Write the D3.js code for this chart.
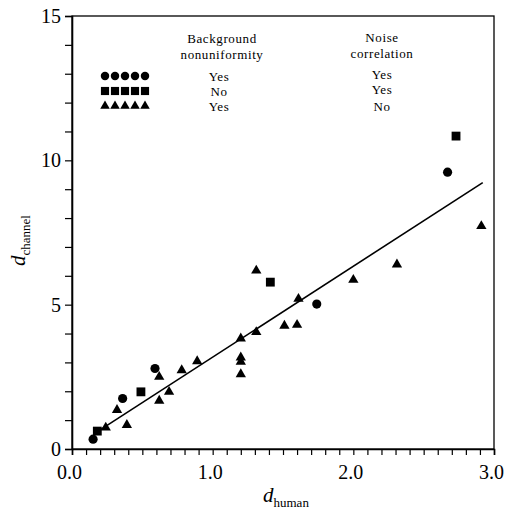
<!DOCTYPE html>
<html>
<head>
<meta charset="utf-8">
<script src="https://cdn.jsdelivr.net/npm/d3@7"></script>
<style>
  body { margin: 0; background: #fff; }
  svg { display: block; }
  text { font-family: "Liberation Serif", "DejaVu Serif", serif; fill: #000; }
</style>
</head>
<body>
<svg id="chart" width="508" height="513"></svg>
<script>
// observers: background nonuniformity yes / noise correlation yes
const circleX = [0.15, 0.36, 0.59, 1.74, 2.67]
const circleY = [0.34, 1.75, 2.79, 5.02, 9.59]

// background nonuniformity no / noise correlation yes
const squareX = [0.18, 0.49, 1.41, 2.73]
const squareY = [0.62, 1.98, 5.78, 10.84]

// background nonuniformity yes / noise correlation no
const triangleX = [0.24, 0.32, 0.39, 0.62, 0.62, 0.69, 0.78, 0.89, 1.2, 1.2,
  1.2, 1.2, 1.31, 1.31, 1.51, 1.6, 1.61, 2.0, 2.31, 2.91]
const triangleY = [0.74, 1.35, 0.83, 2.5, 1.67, 1.98, 2.73, 3.04, 3.83, 3.17,
  3.02, 2.59, 6.18, 4.05, 4.27, 4.3, 5.2, 5.86, 6.39, 7.72]

// fitted line end points
const fitX = [0.2, 2.92]
const fitY = [0.66, 9.23]

const xTickLabels = ["0.0", "1.0", "2.0", "3.0"]
const yTickLabels = ["0", "5", "10", "15"]

const legendBackground = ["Yes", "No", "Yes"]
const legendNoise = ["Yes", "Yes", "No"]

const svg = d3.select("#chart")
const margins = {left: 72, right: 14, top: 16, bottom: 64}
const width = 508, height = 513

const x = d3.scaleLinear().domain([0, 3]).range([margins.left, width - margins.right])
const y = d3.scaleLinear().domain([0, 15]).range([height - margins.bottom, margins.top])

const zip = (xs, ys) => xs.map((v, i) => ({x: v, y: ys[i]}))
const series = [
  {key: "circle", type: d3.symbolCircle, size: 66, pts: zip(circleX, circleY)},
  {key: "square", type: d3.symbolSquare, size: 78, pts: zip(squareX, squareY)},
  {key: "triangle", type: d3.symbolTriangle, size: 46, pts: zip(triangleX, triangleY)}
]

// frame
svg.append("rect")
  .attr("x", x(0)).attr("y", y(15))
  .attr("width", x(3) - x(0)).attr("height", y(0) - y(15))
  .attr("fill", "none").attr("stroke", "#000").attr("stroke-width", 1.3)

// x axis
const xAxis = d3.axisBottom(x)
  .tickValues(d3.range(0, 31).map(i => i / 10))
  .tickSize(6)
  .tickFormat(d => {
    const i = Math.round(d * 10)
    return i % 10 === 0 ? xTickLabels[i / 10] : ""
  })
const gx = svg.append("g")
  .attr("transform", `translate(0, ${y(0)})`)
  .call(xAxis)
gx.select(".domain").attr("stroke-width", 1.6)
gx.selectAll(".tick line").attr("stroke-width", 1.2)
gx.selectAll(".tick text")
  .attr("font-size", 20)
  .attr("dy", "1.05em")
  .attr("dx", -3)

// y axis
const yAxis = d3.axisLeft(y)
  .tickValues(d3.range(0, 16))
  .tickSize(7)
  .tickFormat(d => d % 5 === 0 ? yTickLabels[d / 5] : "")
const gy = svg.append("g")
  .attr("transform", `translate(${x(0)}, 0)`)
  .call(yAxis)
gy.select(".domain").attr("stroke-width", 1.6)
gy.selectAll(".tick line").attr("stroke-width", 1.2)
gy.selectAll(".tick text")
  .attr("font-size", 20)
  .attr("x", -11)
svg.selectAll(".domain, .tick line").attr("stroke", "#000")
svg.selectAll(".tick text").attr("font-family", "Liberation Serif, DejaVu Serif, serif").attr("fill", "#000")

// fitted line
svg.append("path")
  .datum(zip(fitX, fitY))
  .attr("d", d3.line().x(d => x(d.x)).y(d => y(d.y)))
  .attr("fill", "none")
  .attr("stroke", "#000")
  .attr("stroke-width", 1.6)

// points
series.forEach(s => {
  svg.append("g")
    .attr("class", s.key)
    .selectAll("path")
    .data(s.pts)
    .enter()
    .append("path")
    .attr("d", d3.symbol().type(s.type).size(s.size))
    .attr("transform", d => `translate(${x(d.x)}, ${y(d.y)})`)
    .attr("fill", "#000")
})

// legend
const legend = svg.append("g").attr("font-size", 13).attr("letter-spacing", 0.6)
const headX1 = 222, headX2 = 382
legend.append("text").attr("x", headX1).attr("y", 43).attr("text-anchor", "middle").text("Background")
legend.append("text").attr("x", headX1).attr("y", 59).attr("text-anchor", "middle").text("nonuniformity")
legend.append("text").attr("x", headX2).attr("y", 42).attr("text-anchor", "middle").text("Noise")
legend.append("text").attr("x", headX2).attr("y", 58).attr("text-anchor", "middle").text("correlation")

series.forEach((s, r) => {
  const rowY = 76 + r * 15
  legend.append("g")
    .selectAll("path")
    .data(d3.range(5))
    .enter()
    .append("path")
    .attr("d", d3.symbol().type(s.type).size(s.size * 0.85))
    .attr("transform", i => `translate(${105 + i * 10}, ${rowY})`)
    .attr("fill", "#000")
  legend.append("text").attr("x", headX1 - 3).attr("y", rowY + 5)
    .attr("text-anchor", "middle").text(legendBackground[r])
  legend.append("text").attr("x", headX2).attr("y", rowY + 3 + (r === 2 ? 2 : 0))
    .attr("text-anchor", "middle").text(legendNoise[r])
})

// axis titles
const xt = svg.append("text")
  .attr("x", 263).attr("y", 502)
  .attr("font-size", 21)
xt.append("tspan").attr("font-style", "italic").text("d")
xt.append("tspan").attr("font-size", 13).attr("dy", 5).text("human")

const yt = svg.append("text")
  .attr("transform", "translate(25, 266) rotate(-90)")
  .attr("font-size", 21)
yt.append("tspan").attr("font-style", "italic").text("d")
yt.append("tspan").attr("font-size", 13).attr("dy", 5).text("channel")
</script>
</body>
</html>
